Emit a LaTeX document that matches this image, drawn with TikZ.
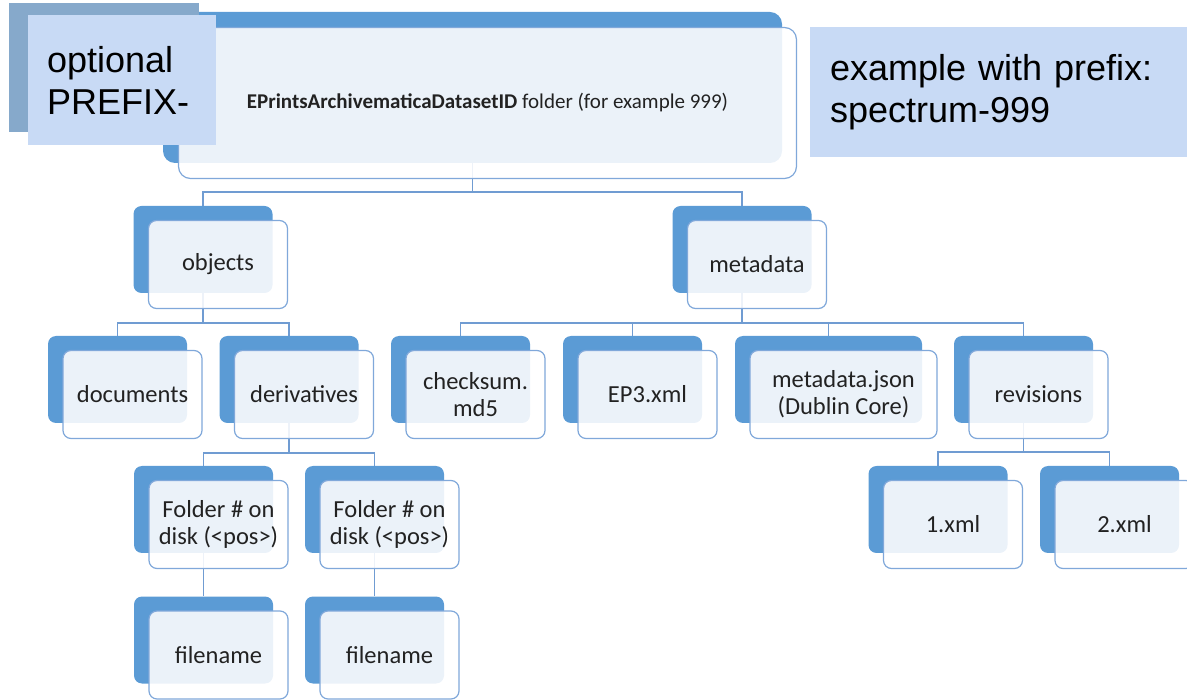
\documentclass[tikz,border=0pt]{standalone}
\usepackage{fontspec}
\setmainfont{Carlito}
\newfontfamily\arialfont{Liberation Sans}
\usetikzlibrary{backgrounds}

\definecolor{backblue}{RGB}{91,155,213}
\definecolor{frontline}{RGB}{128,168,218}
\definecolor{linkblue}{RGB}{112,156,210}
\definecolor{textgray}{RGB}{34,34,34}
\definecolor{prefixdark}{RGB}{134,169,203}
\definecolor{prefixlight}{RGB}{200,218,245}

\tikzset{
  backbox/.style={rounded corners=8pt, fill=backblue, minimum height=87pt, inner sep=0pt},
  frontbox/.style={rounded corners=8pt, draw=frontline, line width=1.2pt, fill=white,
    fill opacity=0.88, text opacity=1, minimum height=88pt, inner sep=0pt, align=center,
    text=textgray, font=\fontsize{24.5pt}{27pt}\selectfont},
  link/.style={draw=linkblue, line width=1.7pt},
  notebox/.style={fill=prefixlight, minimum height=130pt, inner ysep=0pt, align=left,
    font=\arialfont\fontsize{36pt}{42pt}\selectfont},
}

% back plate and front card of one folder
\newcommand{\dirnode}[4][139pt]{%
  \node[backbox, minimum width=#1] (#2-b) at (#3) {};
  \node[frontbox, minimum width=#1] (#2) at ([shift={(15,15)}]#2-b) {#4};}

\begin{document}
\begin{tikzpicture}[x=1pt, y=-1pt]
  \useasboundingbox (0,0) rectangle (1187,700);
  \clip (0,0) rectangle (1187,700);

  \node[backbox, rounded corners=12pt, minimum width=619pt, minimum height=151pt] (root-b) at (472.5,87.5) {};
  \node[frontbox, rounded corners=12pt, minimum width=618pt, minimum height=151pt,
    font=\fontsize{21pt}{24pt}\selectfont] (root) at ([shift={(15,15.5)}]root-b)
    {\textbf{EPrintsArchivematicaDatasetID} folder (for example 999)};

  \dirnode{objects}{203,249.5}{objects}
  \dirnode{metadata}{742,249.5}{metadata}
  \dirnode{documents}{117.5,379.5}{documents}
  \dirnode{derivatives}{289,379.5}{derivatives}
  \dirnode{checksum}{460.5,379.5}{checksum.\\md5}
  \dirnode{ep3}{632.5,379.5}{EP3.xml}
  \dirnode[187pt]{json}{828.5,379.5}{metadata.json\\(Dublin Core)}
  \dirnode{revisions}{1023.5,379.5}{revisions}
  \dirnode{folder1}{203.5,509.5}{Folder \# on\\disk (<pos>)}
  \dirnode{folder2}{374.5,509.5}{Folder \# on\\disk (<pos>)}
  \dirnode{xml1}{938,509.5}{1.xml}
  \dirnode{xml2}{1109.5,509.5}{2.xml}
  \dirnode{file1}{203.5,640}{filename}
  \dirnode{file2}{374.5,640}{filename}

  \begin{scope}[on background layer]
    \path[link]
    (root-b.south) -- ++(0,29) -| (objects-b.north)
    (root-b.south) -- ++(0,29) -| (metadata-b.north)
    (objects-b.south) -- ++(0,30) -| (documents-b.north)
    (objects-b.south) -- ++(0,30) -| (derivatives-b.north)
    (metadata-b.south) -- ++(0,30) -| (checksum-b.north)
    (metadata-b.south) -- ++(0,30) -| (ep3-b.north)
    (metadata-b.south) -- ++(0,30) -| (json-b.north)
    (metadata-b.south) -- ++(0,30) -| (revisions-b.north)
    (derivatives-b.south) -- ++(0,30) -| (folder1-b.north)
    (derivatives-b.south) -- ++(0,30) -| (folder2-b.north)
    (revisions-b.south) -- ++(0,29) -| (xml1-b.north)
    (revisions-b.south) -- ++(0,29) -| (xml2-b.north)
    (folder1-b.south) -- (file1-b.north)
    (folder2-b.south) -- (file2-b.north)
    ;
  \end{scope}

  \node[fill=prefixdark, minimum width=190pt, minimum height=129pt] (prefix-b) at (104,67.5) {};
  \node[notebox, text width=150pt, inner xsep=19pt] (prefix) at (122,80) {optional\\PREFIX-};
  \node[notebox, text width=337pt, inner xsep=20pt] (example) at (998.5,92) {example with prefix:\\spectrum-999};
\end{tikzpicture}
\end{document}
